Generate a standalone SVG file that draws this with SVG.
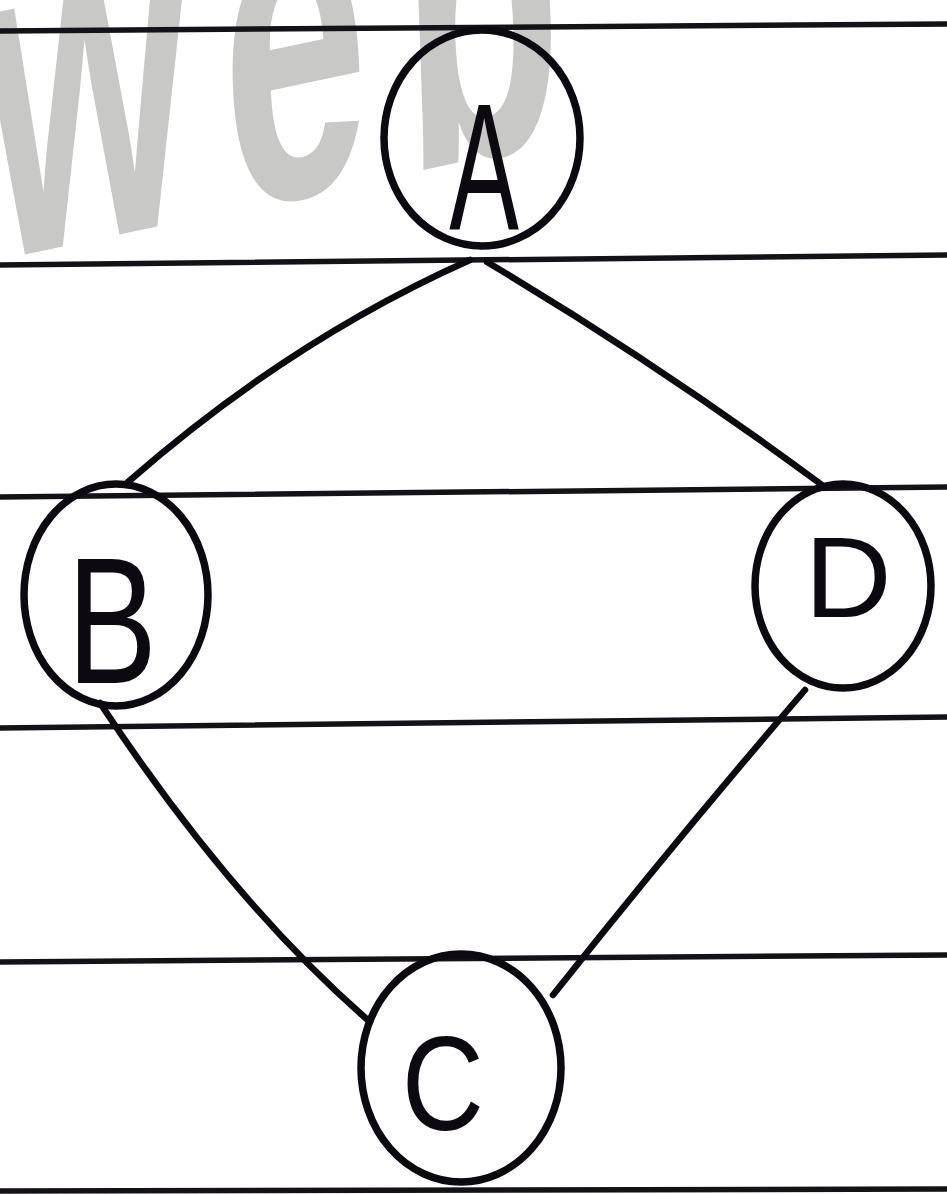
<svg xmlns="http://www.w3.org/2000/svg" width="947" height="1194" viewBox="0 0 947 1194">
<style>
.rule{stroke:#141218;stroke-width:5.5;fill:none;stroke-linecap:round}
.node{stroke:#0c0a10;stroke-width:7.5;fill:none}
.edge{stroke:#0c0a10;stroke-width:6.5;fill:none;stroke-linecap:round}
.lbl{font-family:"Liberation Sans",Arial,sans-serif;fill:#0c0a10;text-anchor:middle}
.wm{font-family:"Liberation Sans",Arial,sans-serif;font-weight:bold;fill:#c8c8c6}
</style>
<rect width="947" height="1194" fill="#ffffff"/>
<text class="wm" transform="translate(-10,262) rotate(-12) skewX(-10) scale(0.58,1)" x="0" y="0" font-size="460" letter-spacing="60">web</text>
<g id="rules">
<path class="rule" d="M0 31 L947 24"/>
<path class="rule" d="M0 265 L947 255"/>
<path class="rule" d="M0 497 L947 487"/>
<path class="rule" d="M0 728 L947 717"/>
<path class="rule" d="M0 962 L947 955"/>
<path class="rule" d="M0 1191 L947 1189"/>
</g>
<g id="connectors">
<path class="edge" d="M470 260 Q290 340 128 482"/>
<path class="edge" d="M487 262 Q660 365 822 485"/>
<path class="edge" d="M100 703 Q230 900 370 1022"/>
<path class="edge" d="M805 690 Q680 835 553 995"/>
</g>
<g id="node-A">
<ellipse class="node" cx="482" cy="138" rx="98" ry="108"/>
<text class="lbl" transform="translate(484,229) scale(0.58,1)" x="0" y="0" font-size="180">A</text>
</g>
<g id="node-B">
<ellipse class="node" cx="116" cy="595" rx="92" ry="111"/>
<text class="lbl" transform="translate(112,683) scale(0.75,1)" x="0" y="0" font-size="180">B</text>
</g>
<g id="node-D">
<ellipse class="node" cx="843" cy="586" rx="88" ry="102"/>
<text class="lbl" transform="translate(848,617) scale(1.05,1)" x="0" y="0" font-size="115">D</text>
</g>
<g id="node-C">
<ellipse class="node" cx="461" cy="1068" rx="100" ry="114"/>
<text class="lbl" transform="translate(443,1130) scale(0.85,1)" x="0" y="0" font-size="134">C</text>
</g>
</svg>
